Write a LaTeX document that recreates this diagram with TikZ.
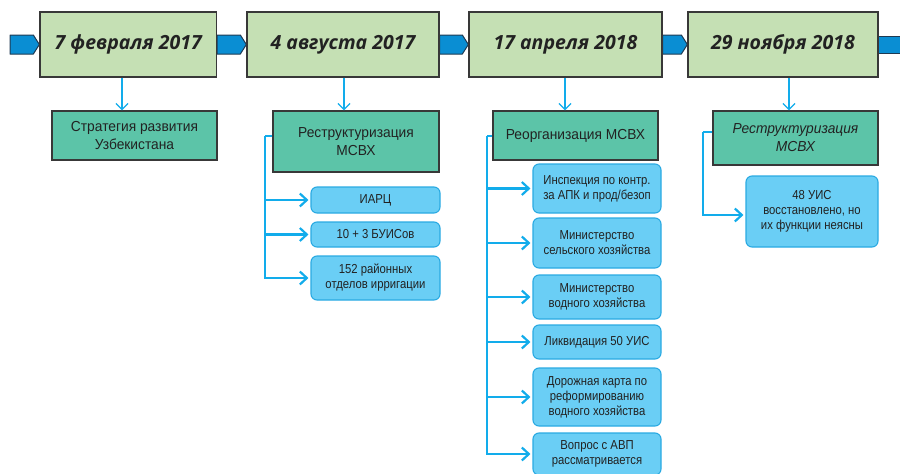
\documentclass[tikz,border=0pt]{standalone}
\usepackage{fontspec}
\setmainfont{Liberation Sans}
\newfontfamily\datefont{Open Sans}
\newfontfamily\boxfont{Liberation Sans}[FakeStretch=0.87]
\newfontfamily\greenfont{Liberation Sans}[FakeStretch=0.95]
\usetikzlibrary{arrows.meta,calc,backgrounds}
\definecolor{dategreen}{HTML}{C5E0B4}
\definecolor{midgreen}{HTML}{5CC4A8}
\definecolor{lightblue}{HTML}{6ACEF5}
\definecolor{blueedge}{HTML}{2AAAE2}
\definecolor{linkblue}{HTML}{12ACEB}
\definecolor{tlblue}{HTML}{0A8ED3}
\definecolor{tledge}{HTML}{1E3A52}
\definecolor{txt}{HTML}{222222}
\tikzset{
  datebox/.style={draw=txt!90, line width=1.3pt, fill=dategreen, inner sep=0pt,
    font=\datefont\fontsize{19.5}{22}\selectfont\bfseries\itshape, text=txt},
  greenbox/.style={draw=txt!90, line width=1.3pt, fill=midgreen, inner sep=0pt, align=center,
    font=\greenfont\fontsize{14.5}{18}\selectfont, text=txt},
  bluebox/.style={draw=blueedge, line width=1.1pt, fill=lightblue, rounded corners=6pt,
    inner sep=0pt, align=center, font=\boxfont\fontsize{13}{15}\selectfont, text=txt},
  tl/.style={draw=tledge, line width=1pt, fill=tlblue, line join=round},
  downarrow/.style={draw=linkblue, line width=1.3pt, -{Straight Barb[length=6pt,width=12pt,line width=1.3pt]}},
  brline/.style={draw=linkblue, line width=2.2pt},
  brarrow/.style={brline, shorten >=2pt, -{Straight Barb[length=7pt,width=13pt,line width=2.2pt]}},
}
\begin{document}
\begin{tikzpicture}[x=1pt,y=-1pt]
\useasboundingbox (0,0) rectangle (900,474);
% date boxes
\node[datebox, minimum width=176.5pt, minimum height=65pt] (d1) at (128.25,44.5) {7 февраля 2017};
\node[datebox, minimum width=192pt, minimum height=65pt] (d2) at (343,44.5) {4 августа 2017};
\node[datebox, minimum width=193pt, minimum height=65pt] (d3) at (565.5,44.5) {17 апреля 2018};
\node[datebox, minimum width=190pt, minimum height=65pt] (d4) at (783,44.5) {29 ноября 2018};
\coordinate (tlstart) at (10,44.5);
\coordinate (tlend) at (900,44.5);
% timeline arrows
\begin{scope}[on background layer]
\path[tl] ($(tlstart)+(0,-9.5)$) -- ($(d1.west)+(-6,-9.5)$) -- (d1.west) -- ($(d1.west)+(-6,9.5)$) -- ($(tlstart)+(0,9.5)$) -- cycle;
\path[tl] ($(d1.east)+(0,-9.5)$) -- ($(d2.west)+(-6,-9.5)$) -- (d2.west) -- ($(d2.west)+(-6,9.5)$) -- ($(d1.east)+(0,9.5)$) -- cycle;
\path[tl] ($(d2.east)+(0,-9.5)$) -- ($(d3.west)+(-6,-9.5)$) -- (d3.west) -- ($(d3.west)+(-6,9.5)$) -- ($(d2.east)+(0,9.5)$) -- cycle;
\path[tl] ($(d3.east)+(0,-9.5)$) -- ($(d4.west)+(-6,-9.5)$) -- (d4.west) -- ($(d4.west)+(-6,9.5)$) -- ($(d3.east)+(0,9.5)$) -- cycle;
\path[tl] ($(d4.east)+(0,-8.5)$) -- ($(tlend)+(2,-8.5)$) -- ($(tlend)+(2,8.5)$) -- ($(d4.east)+(0,8.5)$) -- cycle;
\end{scope}
% green boxes
\node[greenbox, minimum width=165pt, minimum height=49pt] (g1) at (134.5,135.5) {Стратегия развития\\Узбекистана};
\node[greenbox, minimum width=166pt, minimum height=61pt] (g2) at (356,141.5) {Реструктуризация\\МСВХ};
\node[greenbox, minimum width=165pt, minimum height=49pt] (g3) at (575.5,135.5) {Реорганизация МСВХ};
\node[greenbox, minimum width=165pt, minimum height=54pt, font=\greenfont\fontsize{14.5}{18}\selectfont\itshape] (g4) at (795.5,138) {Реструктуризация\\МСВХ};
% down arrows
\draw[downarrow] ([xshift=-6.25pt]d1.south) -- ([xshift=-6.25pt]d1.south |- g1.north);
\draw[downarrow] ([xshift=1pt]d2.south) -- ([xshift=1pt]d2.south |- g2.north);
\draw[downarrow] ([xshift=-0.5pt]d3.south) -- ([xshift=-0.5pt]d3.south |- g3.north);
\draw[downarrow] ([xshift=6pt]d4.south) -- ([xshift=6pt]d4.south |- g4.north);
% blue boxes col 2
\node[bluebox, minimum width=129pt, minimum height=26pt] (b21) at (375.5,200) {ИАРЦ};
\node[bluebox, minimum width=129pt, minimum height=25pt] (b22) at (375.5,234.5) {10 + 3 БУИСов};
\node[bluebox, minimum width=129pt, minimum height=44pt] (b23) at (375.5,278) {152 районных\\отделов ирригации};
% blue boxes col 3
\node[bluebox, minimum width=128pt, minimum height=49pt] (b31) at (597,188.5) {Инспекция по контр.\\за АПК и прод/безоп};
\node[bluebox, minimum width=128pt, minimum height=50pt] (b32) at (597,243) {Министерство\\сельского хозяйства};
\node[bluebox, minimum width=128pt, minimum height=44pt] (b33) at (597,297) {Министерство\\водного хозяйства};
\node[bluebox, minimum width=128pt, minimum height=34pt] (b34) at (597,342) {Ликвидация 50 УИС};
\node[bluebox, minimum width=128pt, minimum height=58pt] (b35) at (597,397) {Дорожная карта по\\реформированию\\водного хозяйства};
\node[bluebox, minimum width=128pt, minimum height=42pt] (b36) at (597,454) {Вопрос с АВП\\рассматривается};
% blue box col 4
\node[bluebox, minimum width=132pt, minimum height=71pt] (b41) at (812,211.5) {48 УИС\\восстановлено, но\\их функции неясны};
% branch connectors
\coordinate (t2) at (265,136);
\coordinate (t3) at (487,136);
\coordinate (t4) at (703,132);
\draw[brline] (t2 -| g2.west) -- (t2);
\draw[brarrow] (t2) |- (b21.west);
\draw[brarrow] (t2) |- (b22.west);
\draw[brarrow] (t2) |- (b23.west);
\draw[brline] (t3 -| g3.west) -- (t3);
\draw[brarrow] (t3) |- (b31.west);
\draw[brarrow] (t3) |- (b32.west);
\draw[brarrow] (t3) |- (b33.west);
\draw[brarrow] (t3) |- (b34.west);
\draw[brarrow] (t3) |- (b35.west);
\draw[brarrow] (t3) |- (b36.west);
\draw[brline] (t4 -| g4.west) -- (t4);
\draw[brarrow] (t4) |- ([yshift=-3.5pt]b41.west);
\end{tikzpicture}
\end{document}
